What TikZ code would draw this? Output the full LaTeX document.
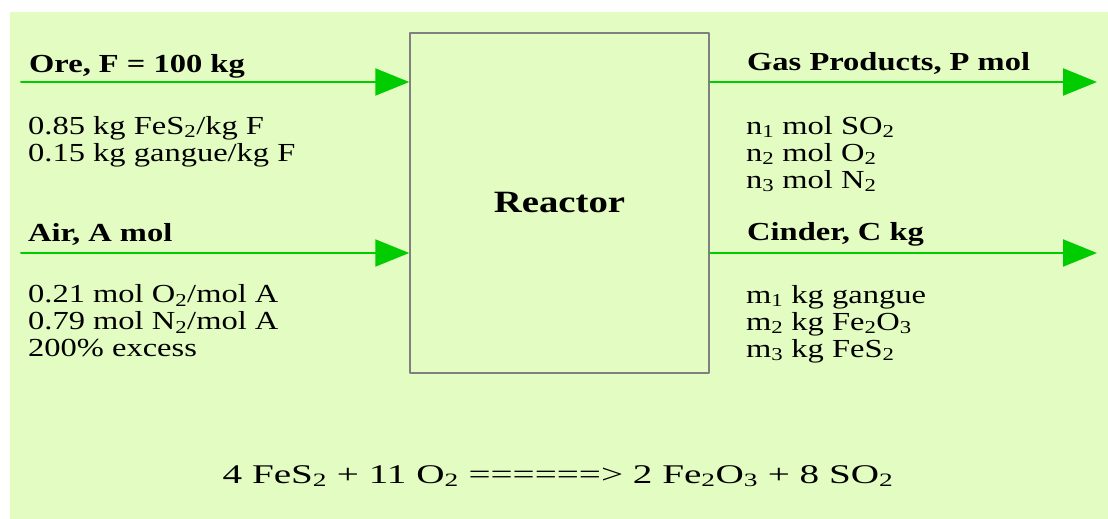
\documentclass[tikz,border=0pt]{standalone}
\usepackage{fontspec}
\setmainfont{Liberation Serif}[FakeStretch=1.25]
\newfontfamily\eqfont{Liberation Serif}[FakeStretch=1.45]
\usetikzlibrary{arrows.meta}
\definecolor{bgpale}{RGB}{227,252,194}
\definecolor{flowgreen}{RGB}{0,204,0}
\definecolor{boxgray}{RGB}{128,128,128}
\begin{document}
\begin{tikzpicture}[x=1pt, y=-1pt, line cap=round, line join=round,
		flow/.style={flowgreen, line width=2pt, -{Triangle[length=34pt, width=27pt]}},
		head/.style={anchor=base west, inner sep=0pt, font=\fontsize{26}{27}\selectfont\bfseries},
		info/.style={anchor=base west, inner sep=0pt, align=left, font=\fontsize{26}{27}\selectfont}]
	
	% Khung nền
	\useasboundingbox (0,0) rectangle (1108,519);
	\fill[bgpale] (10,12) rectangle (1108,519);
	
	% Lò phản ứng
	\node[draw=boxgray, line width=1.5pt, minimum width=299pt, minimum height=340pt, inner sep=0pt,
		font=\fontsize{31}{32}\selectfont\bfseries] (reactor) at (559.5,203) {Reactor};
	
	% Các dòng vào
	\coordinate (ore) at (21,82);
	\coordinate (air) at (21,253);
	\draw[flow] (ore) -- (ore -| reactor.west);
	\draw[flow] (air) -- (air -| reactor.west);
	
	% Các dòng ra
	\coordinate (gas) at (1097,82);
	\coordinate (cinder) at (1097,253);
	\draw[flow] (reactor.east |- gas) -- (gas);
	\draw[flow] (reactor.east |- cinder) -- (cinder);
	
	% Nhãn dòng vào (khối nhiều dòng: tọa độ là đường chân chữ của dòng cuối)
	\node[head] (orelabel) at (29,72) {Ore, F = 100 kg};
	\node[info] (oreinfo) at (28,161) {0.85 kg FeS\textsubscript{2}/kg F\\0.15 kg gangue/kg F};
	\node[head] (airlabel) at (28,241.7) {Air, A mol};
	\node[info] (airinfo) at (28,356.5) {0.21 mol O\textsubscript{2}/mol A\\0.79 mol N\textsubscript{2}/mol A\\200\% excess};
	
	% Nhãn dòng ra
	\node[head] (gaslabel) at (747,70.7) {Gas Products, P mol};
	\node[info] (gasinfo) at (746,188) {n\textsubscript{1} mol SO\textsubscript{2}\\n\textsubscript{2} mol O\textsubscript{2}\\n\textsubscript{3} mol N\textsubscript{2}};
	\node[head] (cinderlabel) at (747,240) {Cinder, C kg};
	\node[info] (cinderinfo) at (746,357) {m\textsubscript{1} kg gangue\\m\textsubscript{2} kg Fe\textsubscript{2}O\textsubscript{3}\\m\textsubscript{3} kg FeS\textsubscript{2}};
	
	% Phương trình phản ứng
	\node[anchor=base, inner sep=0pt, font=\fontsize{27}{28}\eqfont] (reaction) at (558,483)
		{4 FeS\textsubscript{2} + 11 O\textsubscript{2} ======> 2 Fe\textsubscript{2}O\textsubscript{3} + 8 SO\textsubscript{2}};
	
\end{tikzpicture}
\end{document}
